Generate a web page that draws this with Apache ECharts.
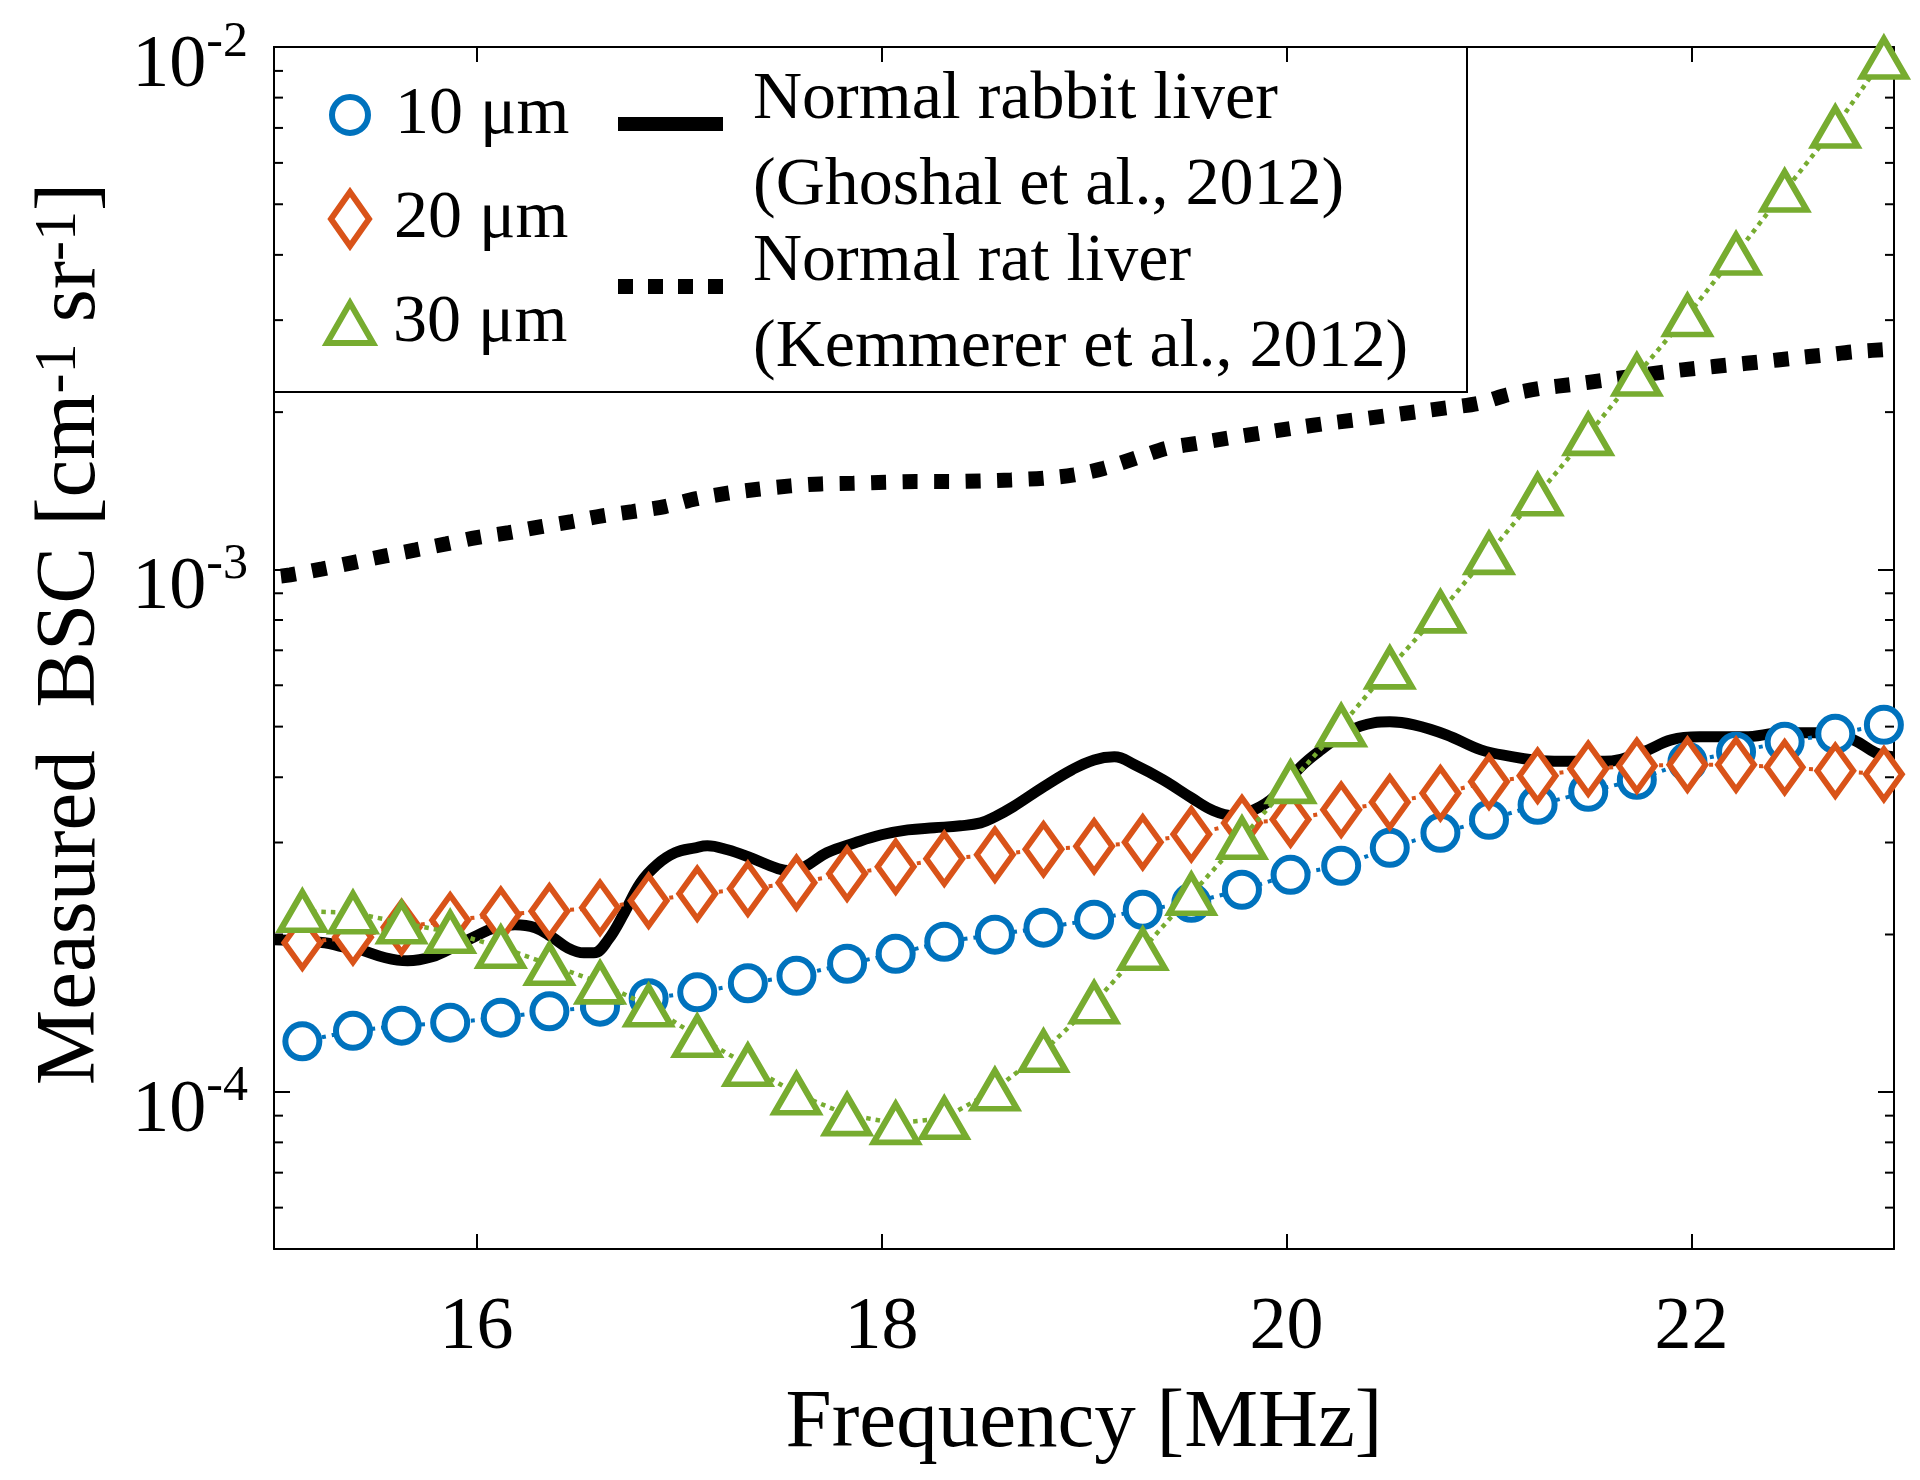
<!DOCTYPE html>
<html><head><meta charset="utf-8">
<script src="https://cdn.jsdelivr.net/npm/echarts@6/dist/echarts.min.js"></script>
<style>html,body{margin:0;padding:0;background:#fff}#c{width:1920px;height:1480px}</style>
</head><body><div id="c"></div>
<script>
const FONT = "'Liberation Serif','Times New Roman',serif";
const X_MIN = 15, X_MAX = 23;
const Y_MIN = 5e-5, Y_MAX = 1e-2;
const xTickLabels = [16, 18, 20, 22];
const yTickLabels = [1e-4, 1e-3, 1e-2];
const yMinorTicks = [6e-5, 7e-5, 8e-5, 9e-5,
  2e-4, 3e-4, 4e-4, 5e-4, 6e-4, 7e-4, 8e-4, 9e-4,
  2e-3, 3e-3, 4e-3, 5e-3, 6e-3, 7e-3, 8e-3, 9e-3];

const markerFreq = [15.14, 15.39, 15.63, 15.87, 16.12, 16.36, 16.61, 16.85, 17.09, 17.34, 17.58,
  17.83, 18.07, 18.31, 18.56, 18.80, 19.05, 19.29, 19.53, 19.78, 20.02, 20.27, 20.51, 20.76,
  21.00, 21.24, 21.49, 21.73, 21.98, 22.22, 22.46, 22.71, 22.95];
const bsc10um = [1.249e-4, 1.308e-4, 1.338e-4, 1.356e-4, 1.386e-4, 1.426e-4, 1.455e-4, 1.510e-4,
  1.550e-4, 1.613e-4, 1.667e-4, 1.758e-4, 1.837e-4, 1.937e-4, 1.998e-4, 2.061e-4, 2.135e-4,
  2.230e-4, 2.300e-4, 2.436e-4, 2.602e-4, 2.707e-4, 2.931e-4, 3.131e-4, 3.316e-4, 3.543e-4,
  3.752e-4, 3.955e-4, 4.281e-4, 4.474e-4, 4.676e-4, 4.844e-4, 5.040e-4];
const bsc20um = [1.929e-4, 1.976e-4, 2.065e-4, 2.129e-4, 2.182e-4, 2.216e-4, 2.250e-4, 2.321e-4,
  2.393e-4, 2.446e-4, 2.512e-4, 2.614e-4, 2.695e-4, 2.792e-4, 2.842e-4, 2.911e-4, 2.951e-4,
  3.003e-4, 3.110e-4, 3.270e-4, 3.320e-4, 3.465e-4, 3.582e-4, 3.727e-4, 3.921e-4, 4.026e-4,
  4.152e-4, 4.207e-4, 4.226e-4, 4.226e-4, 4.180e-4, 4.116e-4, 4.053e-4];
const bsc30um = [2.216e-4, 2.201e-4, 2.106e-4, 2.020e-4, 1.891e-4, 1.754e-4, 1.616e-4, 1.461e-4,
  1.277e-4, 1.124e-4, 9.91e-5, 9.04e-5, 8.70e-5, 8.90e-5, 1.009e-4, 1.195e-4, 1.480e-4,
  1.874e-4, 2.388e-4, 3.056e-4, 3.911e-4, 5.018e-4, 6.478e-4, 8.292e-4, 1.073e-3, 1.389e-3,
  1.813e-3, 2.356e-3, 3.063e-3, 4.016e-3, 5.302e-3, 7.029e-3, 9.526e-3];

const ghoshalFreq = [15.00, 15.25, 15.34, 15.41, 15.55, 15.66, 15.78, 15.89, 15.99, 16.09, 16.19,
  16.29, 16.37, 16.45, 16.53, 16.58, 16.65, 16.73, 16.81, 16.89, 16.98, 17.08, 17.14, 17.24,
  17.34, 17.49, 17.55, 17.62, 17.73, 17.87, 18.00, 18.13, 18.26, 18.39, 18.49, 18.56, 18.65,
  18.80, 18.94, 19.05, 19.15, 19.25, 19.39, 19.53, 19.64, 19.74, 19.84, 19.94, 20.07, 20.17,
  20.30, 20.43, 20.51, 20.63, 20.79, 20.96, 21.12, 21.22, 21.35, 21.57, 21.76, 21.90, 22.04,
  22.26, 22.45, 22.67, 22.80, 22.91, 23.00];
const ghoshalBsc = [1.954e-4, 1.929e-4, 1.895e-4, 1.878e-4, 1.805e-4, 1.781e-4, 1.813e-4, 1.895e-4,
  1.981e-4, 2.061e-4, 2.088e-4, 2.061e-4, 1.981e-4, 1.886e-4, 1.845e-4, 1.845e-4, 1.954e-4,
  2.201e-4, 2.512e-4, 2.719e-4, 2.867e-4, 2.931e-4, 2.957e-4, 2.905e-4, 2.818e-4, 2.672e-4,
  2.649e-4, 2.695e-4, 2.867e-4, 2.997e-4, 3.104e-4, 3.172e-4, 3.201e-4, 3.229e-4, 3.272e-4,
  3.359e-4, 3.512e-4, 3.834e-4, 4.134e-4, 4.318e-4, 4.376e-4, 4.226e-4, 3.955e-4, 3.654e-4,
  3.450e-4, 3.374e-4, 3.465e-4, 3.670e-4, 4.188e-4, 4.513e-4, 4.887e-4, 5.084e-4, 5.106e-4,
  5.040e-4, 4.823e-4, 4.513e-4, 4.376e-4, 4.318e-4, 4.290e-4, 4.290e-4, 4.474e-4, 4.717e-4,
  4.780e-4, 4.780e-4, 4.865e-4, 4.865e-4, 4.717e-4, 4.455e-4, 4.376e-4];

const kemmererFreq = [15.00, 15.08, 15.24, 15.39, 15.55, 15.70, 15.85, 16.00, 16.16, 16.32, 16.47,
  16.62, 16.77, 16.93, 17.08, 17.24, 17.39, 17.55, 17.70, 17.86, 18.02, 18.17, 18.33, 18.49,
  18.64, 18.80, 18.95, 19.10, 19.26, 19.41, 19.56, 19.71, 19.87, 20.03, 20.18, 20.34, 20.49,
  20.65, 20.80, 20.95, 21.10, 21.26, 21.42, 21.58, 21.88, 22.03, 22.19, 22.35, 22.50, 22.66,
  22.81, 23.00];
const kemmererBsc = [9.675e-4, 9.760e-4, 1.0022e-3, 1.0304e-3, 1.0613e-3, 1.0897e-3, 1.1189e-3,
  1.1505e-3, 1.1761e-3, 1.2076e-3, 1.2345e-3, 1.2658e-3, 1.2901e-3, 1.3188e-3, 1.3643e-3,
  1.3990e-3, 1.4239e-3, 1.4448e-3, 1.4576e-3, 1.4621e-3, 1.4686e-3, 1.4725e-3, 1.4725e-3,
  1.4770e-3, 1.4836e-3, 1.4948e-3, 1.5167e-3, 1.5621e-3, 1.6346e-3, 1.7060e-3, 1.7440e-3,
  1.7828e-3, 1.8225e-3, 1.8631e-3, 1.8987e-3, 1.9325e-3, 1.9669e-3, 2.0045e-3, 2.0402e-3,
  2.0801e-3, 2.1623e-3, 2.2222e-3, 2.2617e-3, 2.3050e-3, 2.3907e-3, 2.4268e-3, 2.4624e-3,
  2.4984e-3, 2.5362e-3, 2.5734e-3, 2.6111e-3, 2.6424e-3];

const NAME10 = '10 μm', NAME20 = '20 μm', NAME30 = '30 μm';
const NAME_G = 'Normal rabbit liver\n(Ghoshal et al., 2012)';
const NAME_K = 'Normal rat liver\n(Kemmerer et al., 2012)';

const C_BLUE = '#0072BD', C_ORANGE = '#D95319', C_GREEN = '#77AC30';

const zip = (xs, ys) => xs.map((x, i) => [x, ys[i]]);

const chart = echarts.init(document.getElementById('c'), null, {renderer: 'canvas'});

function isMajor(v) {
  const l = Math.log10(v);
  return yTickLabels.some(t => Math.abs(Math.log10(t) - l) < 1e-6);
}

const axisLineStyle = {color: '#000', width: 2};

const markerLegend = (name, icon, w, h, color, top, padLeft, left) => ({
  data: [{name, icon, itemStyle: {color: '#fff', borderColor: color, borderWidth: 6}}],
  orient: 'vertical', left, top, padding: 0,
  itemWidth: w, itemHeight: h, selectedMode: false,
  textStyle: {fontFamily: FONT, fontSize: 68, color: '#000', lineHeight: 68, padding: [0, 0, 0, padLeft]}
});

// legend line icons: the sample sits in the upper part of the icon box
const ICON_SOLID = 'path://M0,0H105V14H0Z M0,52';
const ICON_DOTTED = 'path://M0,0h15v15h-15z M30,0h15v15h-15z M60,0h15v15h-15z M90,0h15v15h-15z M0,52';

const option = {
  animation: false,
  backgroundColor: '#fff',
  grid: {left: 274, right: 26, top: 47, bottom: 231, containLabel: false},
  legend: [
    markerLegend(NAME10, 'circle', 36, 36, C_BLUE, 115 - 34, 22, 329),
    markerLegend(NAME20, 'path://M19,0L38,27L19,54L0,27Z', 38, 54, C_ORANGE, 219 - 34, 20, 328),
    markerLegend(NAME30, 'path://M23,0L46,40L0,40Z', 46, 40, C_GREEN, 323 - 34, 15, 324),
    {
      data: [
        {name: NAME_G, icon: ICON_SOLID, itemStyle: {color: '#000', borderWidth: 0}},
        {name: NAME_K, icon: ICON_DOTTED, itemStyle: {color: '#000', borderWidth: 0}}
      ],
      orient: 'vertical', left: 618, top: 57, padding: 0,
      itemWidth: 105, itemHeight: 52, itemGap: -10, selectedMode: false,
      textStyle: {fontFamily: FONT, fontSize: 68, color: '#000', lineHeight: 86, padding: [0, 0, 0, 25]}
    }
  ],
  graphic: [{
    type: 'rect', z: 100,
    shape: {x: 274, y: 47, width: 1193, height: 345},
    style: {fill: null, stroke: '#000', lineWidth: 2}
  }],
  xAxis: [{
    type: 'value', min: X_MIN, max: X_MAX, splitNumber: 4,
    axisLine: {show: true, lineStyle: axisLineStyle},
    axisTick: {show: true, inside: true, length: 15, lineStyle: axisLineStyle},
    splitLine: {show: false},
    axisLabel: {
      margin: 43, fontFamily: FONT, fontSize: 74, color: '#000',
      formatter: v => xTickLabels.some(t => Math.abs(t - v) < 1e-9) ? String(v) : ''
    },
    name: 'Frequency [MHz]', nameLocation: 'middle', nameGap: 134,
    nameTextStyle: {fontFamily: FONT, fontSize: 83, color: '#000'}
  }, {
    type: 'value', min: X_MIN, max: X_MAX, splitNumber: 4, position: 'top',
    axisLine: {show: true, lineStyle: axisLineStyle},
    axisTick: {show: true, inside: true, length: 15, lineStyle: axisLineStyle},
    splitLine: {show: false}, axisLabel: {show: false}
  }],
  yAxis: [{
    type: 'log', logBase: 10, min: Y_MIN, max: Y_MAX,
    axisLine: {show: true, lineStyle: axisLineStyle},
    axisTick: {show: true, inside: true, length: 16, lineStyle: axisLineStyle},
    splitLine: {show: false}, minorTick: {show: false},
    axisLabel: {
      margin: 26, color: '#000', fontFamily: FONT, padding: [27, 0, 0, 0],
      formatter: v => isMajor(v) ? '{b|10}{s|' + Math.round(Math.log10(v)) + '}' : '',
      rich: {
        b: {fontFamily: FONT, fontSize: 74, color: '#000', padding: [12, 0, 0, 0]},
        s: {fontFamily: FONT, fontSize: 50, color: '#000', verticalAlign: 'top'}
      }
    },
    name: '{t|Measured  BSC [cm}{s|-1}{t| sr}{s|-1}{t|]}',
    nameLocation: 'middle', nameRotate: 90, nameGap: 160,
    nameTextStyle: {
      fontFamily: FONT, fontSize: 85, color: '#000', padding: [0, 0, 0, 28],
      rich: {
        t: {fontFamily: FONT, fontSize: 85, color: '#000'},
        s: {fontFamily: FONT, fontSize: 60, color: '#000', verticalAlign: 'top'}
      }
    }
  }, {
    type: 'log', logBase: 10, min: Y_MIN, max: Y_MAX, position: 'right',
    axisLine: {show: true, lineStyle: axisLineStyle},
    axisTick: {show: true, inside: true, length: 16, lineStyle: axisLineStyle},
    splitLine: {show: false}, axisLabel: {show: false}
  }],
  series: [
    {
      type: 'custom', name: 'minorTicks', silent: true, z: 5,
      data: yMinorTicks.map(v => [X_MIN, v]),
      renderItem: (params, api) => {
        const v = api.value(1);
        const l = api.coord([X_MIN, v]);
        const r = api.coord([X_MAX, v]);
        return {type: 'group', children: [
          {type: 'line', shape: {x1: l[0], y1: l[1], x2: l[0] + 9, y2: l[1]}, style: {stroke: '#000', lineWidth: 2}},
          {type: 'line', shape: {x1: r[0] - 9, y1: r[1], x2: r[0], y2: r[1]}, style: {stroke: '#000', lineWidth: 2}}
        ]};
      }
    },
    {
      type: 'line', name: NAME_G, data: zip(ghoshalFreq, ghoshalBsc),
      symbol: 'none', smooth: 0.4, z: 2,
      lineStyle: {color: '#000', width: 11}, itemStyle: {color: '#000'}
    },
    {
      type: 'line', name: NAME_K, data: zip(kemmererFreq, kemmererBsc),
      symbol: 'none', smooth: 0.3, z: 2,
      lineStyle: {color: '#000', width: 15, type: [15, 16.5], dashOffset: 24.5, cap: 'butt'},
      itemStyle: {color: '#000'}
    },
    {
      type: 'line', name: NAME10, data: zip(markerFreq, bsc10um), z: 3,
      symbol: 'circle', symbolSize: 34,
      lineStyle: {color: C_BLUE, width: 4, type: [4, 6]},
      itemStyle: {color: '#fff', borderColor: C_BLUE, borderWidth: 6}
    },
    {
      type: 'line', name: NAME20, data: zip(markerFreq, bsc20um), z: 4,
      symbol: 'diamond', symbolSize: [36, 50],
      lineStyle: {color: C_ORANGE, width: 4, type: [4, 6]},
      itemStyle: {color: '#fff', borderColor: C_ORANGE, borderWidth: 6}
    },
    {
      type: 'line', name: NAME30, data: zip(markerFreq, bsc30um), z: 5,
      symbol: 'triangle', symbolSize: [44, 38],
      lineStyle: {color: C_GREEN, width: 4.5, type: [4.5, 5]},
      itemStyle: {color: '#fff', borderColor: C_GREEN, borderWidth: 6}
    }
  ]
};
chart.setOption(option);
</script>
</body></html>
